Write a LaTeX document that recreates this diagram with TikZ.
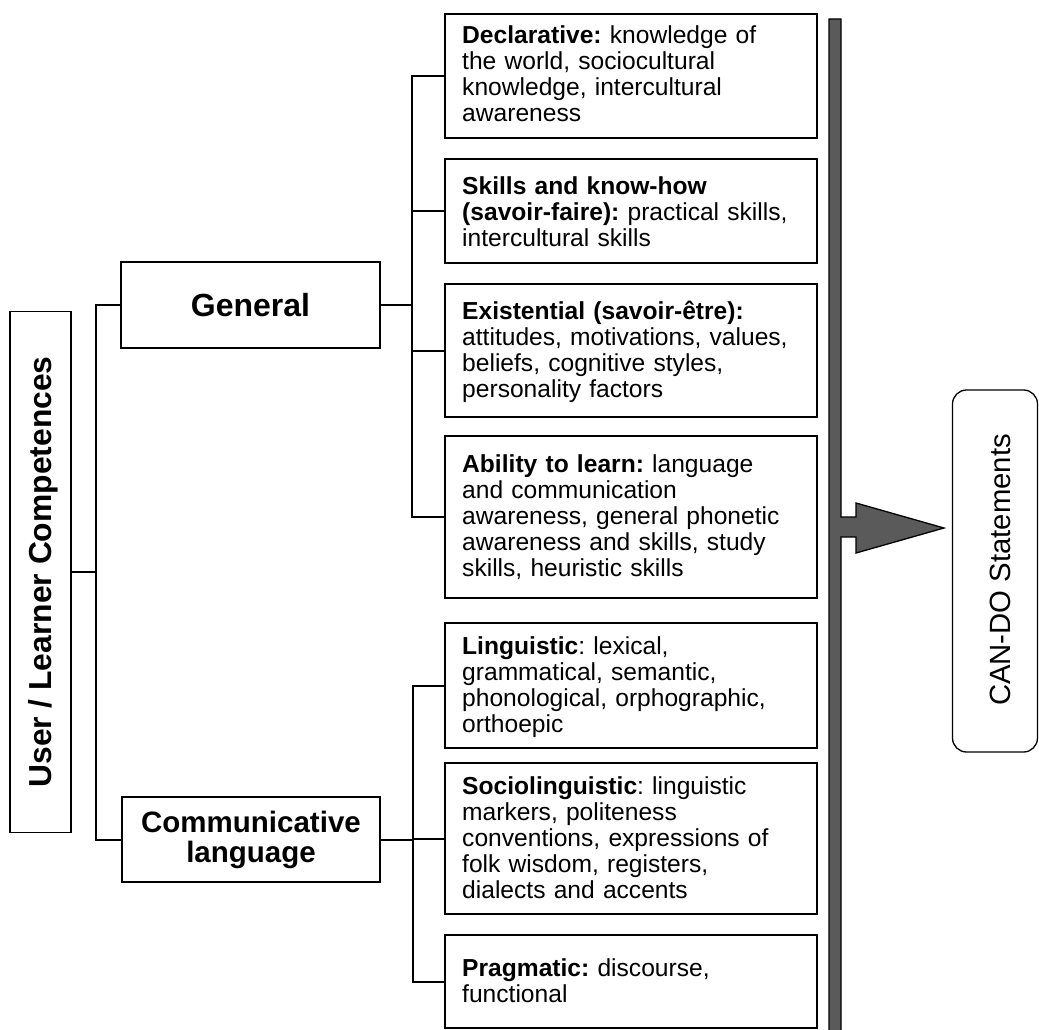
\documentclass[tikz,border=0pt]{standalone}
\usepackage{fontspec}
\setmainfont{Liberation Sans}
\begin{document}
\frenchspacing
\begin{tikzpicture}[x=1pt,y=-1pt,
  bx/.style={draw=black, line width=1.3pt, inner sep=0pt, fill=white},
  conn/.style={draw=black, line width=2pt},
  txt/.style={anchor=base west, inner sep=0pt, text width=355pt, align=left,
              font={\fontsize{24.6}{26}\selectfont\frenchspacing}},
  head/.style={align=center},
  barstyle/.style={draw=black, line width=1.3pt, fill={rgb,255:red,90;green,90;blue,90}, line join=miter}
]
\useasboundingbox (0,0) rectangle (1039,1030);
\clip (0,0) rectangle (1039,1030);

% left box
\node[bx, minimum width=61pt, minimum height=521pt] (ulc) at (40.5,572) {};
\node[rotate=90, inner sep=0pt, text depth=0pt, font={\fontsize{31.8}{32}\selectfont\bfseries}] (ulclab) at (39.5,572) {User / Learner Competences};

% heading boxes
\node[bx, minimum width=259pt, minimum height=86pt, head, font={\fontsize{32}{32}\selectfont\bfseries}] (gen) at (250.5,305) {General};
\node[bx, minimum width=258pt, minimum height=85pt, head, font={\fontsize{29.5}{30}\selectfont\bfseries}] (com) at (251,839.5) {Communicative\\language};

% right boxes
\node[bx, minimum width=372pt, minimum height=124pt] (d1) at (631,76) {};
\node[bx, minimum width=372pt, minimum height=104pt] (d2) at (631,211) {};
\node[bx, minimum width=372pt, minimum height=133pt] (d3) at (631,350.5) {};
\node[bx, minimum width=372pt, minimum height=162pt] (d4) at (631,517) {};
\node[bx, minimum width=372pt, minimum height=125pt] (c1) at (631,685.5) {};
\node[bx, minimum width=372pt, minimum height=151pt] (c2) at (631,838.5) {};
\node[bx, minimum width=372pt, minimum height=93pt] (c3) at (631,981.5) {};

\node[txt] (d1t) at (462,44) {\textbf{Declarative:} knowledge of\\the world, sociocultural\\knowledge, intercultural\\awareness};
\node[txt] (d2t) at (462,194) {\textbf{Skills and know-how}\\\textbf{(savoir-faire):} practical skills,\\intercultural skills};
\node[txt] (d3t) at (462,319) {\textbf{Existential (savoir-être):}\\attitudes, motivations, values,\\beliefs, cognitive styles,\\personality factors};
\node[txt] (d4t) at (462,472) {\textbf{Ability to learn:} language\\and communication\\awareness, general phonetic\\awareness and skills, study\\skills, heuristic skills};
\node[txt] (c1t) at (462,654) {\textbf{Linguistic}: lexical,\\grammatical, semantic,\\phonological, orphographic,\\orthoepic};
\node[txt] (c2t) at (462,794) {\textbf{Sociolinguistic}: linguistic\\markers, politeness\\conventions, expressions of\\folk wisdom, registers,\\dialects and accents};
\node[txt] (c3t) at (462,976) {\textbf{Pragmatic:} discourse,\\functional};

% CAN-DO box
\node[draw=black, line width=1.3pt, rounded corners=14pt, minimum width=85pt, minimum height=362pt, inner sep=0pt] (cando) at (995,571) {};
\node[rotate=90, inner sep=0pt, font={\fontsize{29.3}{30}\selectfont}] (candot) at (1000,570) {CAN-DO Statements};

% connectors
\coordinate (bl) at (96,572);
\coordinate (bg) at (412,305);
\coordinate (bc) at (413,839.5);
\draw[conn] (ulc.east) -- (bl);
\draw[conn] (gen.west) -| (bl) |- (com.west);
\draw[conn] (gen.east) -- (bg);
\draw[conn] (d1.west) -| (bg) |- (d4.west);
\draw[conn] (d2.west) -- (d2.west -| bg);
\draw[conn] (d3.west) -- (d3.west -| bg);
\draw[conn] (com.east) -- (bc);
\draw[conn] (c1.west) -| (bc) |- (c3.west);
\draw[conn] (c2.west) -- (c2.west -| bc);

% bar with arrow
\path[barstyle] (829,19) -- (841,19) -- (841,517) -- (856,517) -- (856,503) -- (944,528) -- (856,553) -- (856,537) -- (841,537) -- (841,1036) -- (829,1036) -- cycle;
\end{tikzpicture}
\end{document}
